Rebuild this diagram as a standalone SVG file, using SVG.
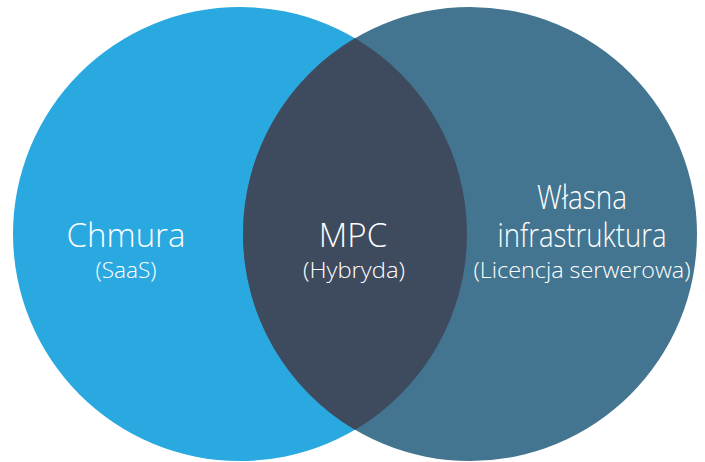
<svg xmlns="http://www.w3.org/2000/svg" width="705" height="462" viewBox="0 0 705 462">
<style>
.t{font-family:"Open Sans","Noto Sans","Liberation Sans",sans-serif;font-weight:300;fill:#ffffff;text-anchor:middle}
.big{font-size:33px}
.small{font-size:22.5px}
</style>
<rect width="705" height="462" fill="#ffffff"/>
<g id="cloud">
<circle cx="240" cy="234" r="227" fill="#29a9e0"/>
<text class="t big" x="126" y="247">Chmura</text>
<text class="t small" x="126" y="278" textLength="61" lengthAdjust="spacingAndGlyphs">(SaaS)</text>
</g>
<g id="own">
<circle cx="470" cy="234" r="227" fill="#437591"/>
<text class="t big" x="582" y="209" textLength="90" lengthAdjust="spacingAndGlyphs">Własna</text>
<text class="t big" x="582" y="247" textLength="169" lengthAdjust="spacingAndGlyphs">infrastruktura</text>
<text class="t small" x="582" y="278" textLength="217" lengthAdjust="spacingAndGlyphs">(Licencja serwerowa)</text>
</g>
<g id="mpc">
<path d="M355,38.3 A227,227 0 0 1 355,429.7 A227,227 0 0 1 355,38.3 Z" fill="#3e4a5e"/>
<text class="t big" x="353" y="247">MPC</text>
<text class="t small" x="354" y="278" textLength="102" lengthAdjust="spacingAndGlyphs">(Hybryda)</text>
</g>
<g id="connectors"/>
</svg>
